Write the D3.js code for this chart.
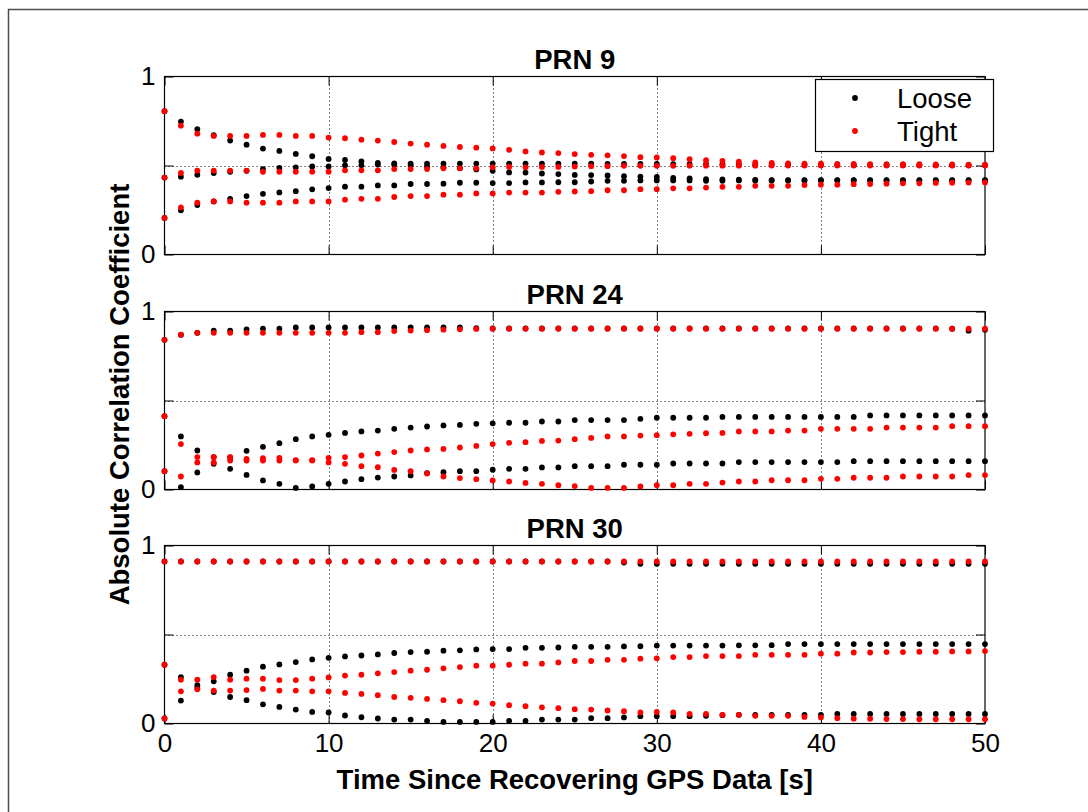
<!DOCTYPE html>
<html><head><meta charset="utf-8">
<script src="https://cdn.jsdelivr.net/npm/d3@7"></script>
<style>
body{margin:0;background:#fff}
svg{display:block}
text{font-family:"Liberation Sans",Arial,Helvetica,sans-serif;fill:#000}
</style>
</head><body>
<svg id="chart" width="1088" height="812"></svg>
<script>
// ---------------- DATA ----------------
const seconds = [0,1,2,3,4,5,6,7,8,9,10,11,12,13,14,15,16,17,18,19,20,21,22,23,24,25,
  26,27,28,29,30,31,32,33,34,35,36,37,38,39,40,41,42,43,44,45,46,47,48,49,50];
const xTicks = [0,10,20,30,40,50];
const yTicks = [0,0.5,1];
const yTickLabels = ["0","","1"];
const panelTitles = ["PRN 9","PRN 24","PRN 30"];
const seriesNames = ["Loose","Tight"];
const seriesColors = ["#000000","#ff0000"];
const xAxisTitle = "Time Since Recovering GPS Data [s]";
const yAxisTitle = "Absolute Correlation Coefficient";

// PRN 9
const loose9a = [0.805,0.747,0.704,0.670,0.640,0.617,0.595,0.582,0.565,0.552,
 0.537,0.531,0.523,0.515,0.512,0.511,0.511,0.511,0.511,0.511,
 0.511,0.511,0.511,0.510,0.510,0.510,0.510,0.509,0.509,0.509,
 0.509,0.508,0.508,0.508,0.507,0.506,0.506,0.505,0.505,0.504,
 0.504,0.504,0.503,0.503,0.503,0.502,0.502,0.502,0.501,0.501,0.501];
const loose9b = [0.432,0.437,0.448,0.458,0.465,0.470,0.480,0.486,0.490,0.495,
 0.495,0.501,0.501,0.505,0.504,0.500,0.495,0.490,0.485,0.478,
 0.470,0.461,0.460,0.455,0.452,0.447,0.446,0.444,0.440,0.438,
 0.436,0.430,0.428,0.424,0.422,0.420,0.419,0.418,0.418,0.418,
 0.418,0.418,0.418,0.417,0.417,0.417,0.417,0.417,0.417,0.417,0.417];
const loose9c = [0.205,0.248,0.278,0.298,0.313,0.328,0.341,0.349,0.356,0.366,
 0.373,0.381,0.381,0.388,0.388,0.396,0.396,0.398,0.403,0.403,
 0.401,0.401,0.405,0.405,0.406,0.406,0.410,0.414,0.414,0.416,
 0.416,0.416,0.416,0.414,0.414,0.416,0.416,0.416,0.416,0.416,
 0.416,0.416,0.416,0.416,0.416,0.416,0.416,0.416,0.416,0.416,0.416];
const tight9a = [0.805,0.724,0.679,0.666,0.666,0.666,0.672,0.672,0.666,0.666,
 0.657,0.653,0.645,0.640,0.632,0.623,0.617,0.610,0.604,0.600,
 0.596,0.588,0.579,0.573,0.570,0.564,0.560,0.557,0.553,0.547,
 0.545,0.541,0.535,0.530,0.526,0.522,0.517,0.514,0.512,0.511,
 0.510,0.509,0.509,0.508,0.508,0.507,0.507,0.506,0.506,0.505,0.505];
const tight9b = [0.432,0.458,0.471,0.471,0.471,0.471,0.465,0.465,0.465,0.465,
 0.465,0.473,0.473,0.473,0.480,0.480,0.480,0.484,0.484,0.484,
 0.490,0.492,0.490,0.492,0.492,0.494,0.496,0.496,0.498,0.498,
 0.498,0.498,0.499,0.499,0.499,0.499,0.499,0.500,0.500,0.500,
 0.500,0.500,0.500,0.500,0.500,0.500,0.500,0.500,0.500,0.500,0.500];
const tight9c = [0.205,0.265,0.291,0.298,0.298,0.291,0.291,0.291,0.298,0.298,
 0.298,0.308,0.313,0.313,0.323,0.328,0.328,0.336,0.336,0.343,
 0.343,0.348,0.348,0.348,0.352,0.354,0.356,0.361,0.361,0.367,
 0.367,0.372,0.372,0.376,0.380,0.380,0.386,0.386,0.386,0.390,
 0.392,0.392,0.395,0.396,0.398,0.400,0.400,0.402,0.403,0.404,0.405];

// PRN 24
const loose24a = [0.841,0.869,0.880,0.893,0.893,0.899,0.903,0.903,0.910,0.910,
 0.910,0.910,0.910,0.910,0.910,0.910,0.910,0.910,0.910,0.907,
 0.905,0.905,0.905,0.905,0.905,0.905,0.905,0.905,0.905,0.905,
 0.905,0.905,0.905,0.905,0.905,0.905,0.905,0.905,0.905,0.905,
 0.905,0.905,0.905,0.905,0.905,0.905,0.905,0.905,0.903,0.892,0.897];
const loose24b = [0.412,0.298,0.219,0.182,0.180,0.217,0.240,0.260,0.283,0.298,
 0.307,0.318,0.326,0.331,0.341,0.348,0.354,0.360,0.363,0.369,
 0.372,0.375,0.375,0.382,0.382,0.390,0.390,0.390,0.390,0.397,
 0.403,0.403,0.403,0.403,0.408,0.408,0.408,0.408,0.408,0.408,
 0.408,0.408,0.408,0.416,0.416,0.416,0.416,0.416,0.416,0.416,0.416];
const loose24c = [0.103,0.013,0.096,0.144,0.116,0.082,0.051,0.032,0.009,0.017,
 0.032,0.045,0.058,0.067,0.073,0.079,0.092,0.097,0.103,0.103,
 0.111,0.116,0.116,0.124,0.124,0.131,0.131,0.131,0.139,0.139,
 0.139,0.146,0.146,0.146,0.146,0.154,0.154,0.154,0.154,0.154,
 0.154,0.154,0.159,0.159,0.159,0.159,0.159,0.159,0.159,0.159,0.159];
const tight24a = [0.841,0.870,0.880,0.880,0.880,0.880,0.880,0.880,0.880,0.880,
 0.880,0.880,0.884,0.884,0.890,0.893,0.895,0.898,0.900,0.902,
 0.903,0.903,0.903,0.903,0.903,0.903,0.903,0.903,0.903,0.903,
 0.903,0.903,0.903,0.903,0.903,0.903,0.903,0.903,0.903,0.903,
 0.903,0.903,0.903,0.903,0.903,0.903,0.903,0.903,0.903,0.903,0.903];
const tight24b = [0.412,0.255,0.182,0.182,0.182,0.172,0.176,0.178,0.165,0.165,
 0.178,0.182,0.191,0.202,0.210,0.219,0.225,0.228,0.236,0.245,
 0.255,0.262,0.266,0.273,0.275,0.283,0.290,0.298,0.298,0.303,
 0.305,0.310,0.313,0.316,0.318,0.326,0.326,0.326,0.331,0.331,
 0.341,0.341,0.341,0.341,0.348,0.348,0.348,0.348,0.356,0.356,0.356];
const tight24c = [0.103,0.073,0.152,0.152,0.163,0.163,0.163,0.163,0.163,0.163,
 0.152,0.144,0.131,0.125,0.110,0.103,0.090,0.073,0.064,0.058,
 0.051,0.045,0.037,0.032,0.024,0.019,0.009,0.009,0.009,0.017,
 0.024,0.024,0.032,0.032,0.039,0.045,0.045,0.052,0.052,0.052,
 0.060,0.060,0.066,0.066,0.066,0.073,0.073,0.073,0.073,0.081,0.081];

// PRN 30
const loose30a = [0.910,0.910,0.910,0.910,0.910,0.910,0.910,0.910,0.910,0.910,
 0.910,0.910,0.910,0.910,0.910,0.910,0.910,0.910,0.910,0.910,
 0.910,0.910,0.910,0.910,0.910,0.910,0.910,0.910,0.904,0.897,
 0.897,0.897,0.897,0.897,0.897,0.897,0.897,0.897,0.897,0.897,
 0.897,0.897,0.897,0.897,0.897,0.897,0.897,0.897,0.897,0.897,0.897];
const loose30b = [0.330,0.261,0.215,0.237,0.274,0.297,0.319,0.332,0.345,0.360,
 0.369,0.377,0.382,0.388,0.396,0.401,0.403,0.409,0.411,0.416,
 0.418,0.418,0.425,0.425,0.427,0.431,0.431,0.431,0.433,0.434,
 0.438,0.438,0.438,0.438,0.438,0.439,0.439,0.440,0.446,0.446,
 0.446,0.446,0.446,0.446,0.446,0.446,0.446,0.446,0.446,0.446,0.446];
const loose30c = [0.028,0.129,0.200,0.177,0.149,0.131,0.108,0.093,0.078,0.065,
 0.062,0.045,0.035,0.028,0.022,0.022,0.015,0.009,0.009,0.009,
 0.009,0.015,0.015,0.022,0.022,0.022,0.030,0.030,0.034,0.041,
 0.041,0.041,0.041,0.043,0.047,0.049,0.049,0.049,0.049,0.049,
 0.049,0.054,0.054,0.054,0.054,0.054,0.054,0.054,0.054,0.054,0.054];
const tight30a = [0.910,0.910,0.910,0.910,0.910,0.910,0.910,0.910,0.910,0.910,
 0.910,0.910,0.910,0.910,0.910,0.910,0.910,0.910,0.910,0.910,
 0.910,0.910,0.910,0.910,0.910,0.910,0.910,0.910,0.910,0.910,
 0.910,0.910,0.910,0.910,0.910,0.910,0.910,0.910,0.910,0.910,
 0.910,0.910,0.910,0.910,0.910,0.910,0.910,0.910,0.910,0.910,0.910];
const tight30b = [0.330,0.246,0.246,0.261,0.246,0.252,0.252,0.244,0.244,0.252,
 0.259,0.269,0.274,0.282,0.289,0.297,0.302,0.310,0.317,0.325,
 0.325,0.330,0.336,0.336,0.343,0.351,0.351,0.358,0.358,0.364,
 0.366,0.373,0.373,0.379,0.379,0.379,0.386,0.386,0.386,0.386,
 0.392,0.392,0.399,0.399,0.401,0.401,0.403,0.403,0.405,0.405,0.407];
const tight30c = [0.028,0.181,0.192,0.185,0.185,0.188,0.194,0.185,0.185,0.181,
 0.181,0.172,0.166,0.159,0.149,0.144,0.138,0.131,0.125,0.116,
 0.112,0.103,0.097,0.091,0.086,0.080,0.078,0.073,0.069,0.062,
 0.065,0.062,0.054,0.054,0.049,0.049,0.043,0.043,0.043,0.037,
 0.034,0.030,0.027,0.027,0.025,0.025,0.024,0.024,0.024,0.024,0.024];

const panels = [
  {title: panelTitles[0], loose: [loose9a, loose9b, loose9c],   tight: [tight9a, tight9b, tight9c]},
  {title: panelTitles[1], loose: [loose24a, loose24b, loose24c], tight: [tight24a, tight24b, tight24c]},
  {title: panelTitles[2], loose: [loose30a, loose30b, loose30c], tight: [tight30a, tight30b, tight30c]}
];

// ---------------- LAYOUT ----------------
const svg = d3.select("#chart");
const FONT = 27.5;
const plotLeft = 164.5, plotRight = 985;
const panelTops = [76.5, 311.5, 545.5];
const panelH = 178;
const tickLen = 9;
const markerR = 2.9;

// figure frame (top/left edges)
svg.append("path")
  .attr("d", "M8.5,812 V9.5 H1088")
  .attr("fill", "none").attr("stroke", "#4d4d4d").attr("stroke-width", 1.5);

const x = d3.scaleLinear().domain([0, 50]).range([plotLeft, plotRight]);

panels.forEach((p, pi) => {
  const top = panelTops[pi];
  const y = d3.scaleLinear().domain([0, 1]).range([top + panelH, top]);
  const g = svg.append("g");

  // dotted grid
  const grid = g.append("g").attr("stroke", "#000").attr("stroke-width", 1)
    .attr("stroke-dasharray", "1,3").attr("fill", "none");
  grid.selectAll("line.gx").data(xTicks.filter(t => t > 0 && t < 50)).join("line")
    .attr("x1", d => Math.round(x(d)) + 0.5).attr("x2", d => Math.round(x(d)) + 0.5)
    .attr("y1", y(1)).attr("y2", y(0));
  grid.selectAll("line.gy").data(yTicks.filter(t => t > 0 && t < 1)).join("line")
    .attr("x1", x(0)).attr("x2", x(50))
    .attr("y1", d => Math.round(y(d)) + 0.5).attr("y2", d => Math.round(y(d)) + 0.5);

  // axes (inward ticks on all four sides)
  const axB = d3.axisBottom(x).tickValues(xTicks).tickSizeInner(-tickLen).tickSizeOuter(0).tickPadding(10)
    .tickFormat(pi === 2 ? d3.format("d") : () => "");
  const axT = d3.axisTop(x).tickValues(xTicks).tickSizeInner(-tickLen).tickSizeOuter(0).tickFormat(() => "");
  const axL = d3.axisLeft(y).tickValues(yTicks).tickSizeInner(-tickLen).tickSizeOuter(0).tickPadding(9)
    .tickFormat((d, i) => yTickLabels[i]);
  const axR = d3.axisRight(y).tickValues(yTicks).tickSizeInner(-tickLen).tickSizeOuter(0).tickFormat(() => "");

  const gB = g.append("g").attr("transform", `translate(0,${y(0)})`).call(axB);
  const gT = g.append("g").attr("transform", `translate(0,${y(1)})`).call(axT);
  const gL = g.append("g").attr("transform", `translate(${x(0)},0)`).call(axL);
  const gR = g.append("g").attr("transform", `translate(${x(50)},0)`).call(axR);
  [gB, gT, gL, gR].forEach(a => {
    a.select(".domain").remove();
    a.selectAll(".tick line").attr("stroke", "#000").attr("stroke-width", 1);
    a.selectAll(".tick text").attr("font-size", 26).attr("fill", "#000")
      .style("font-family", '"Liberation Sans",Arial,sans-serif');
  });
  gB.selectAll(".tick text").attr("dy", "0.71em");

  // plot box
  g.append("rect").attr("x", x(0)).attr("y", y(1))
    .attr("width", x(50) - x(0)).attr("height", y(0) - y(1))
    .attr("fill", "none").attr("stroke", "#000").attr("stroke-width", 1.2);

  // title
  g.append("text").attr("x", (x(0) + x(50)) / 2).attr("y", y(1) - 7.5)
    .attr("text-anchor", "middle").attr("font-weight", "bold").attr("font-size", FONT)
    .text(p.title);

  // markers: loose (black) first, tight (red) on top
  [p.loose, p.tight].forEach((group, si) => {
    group.forEach(vals => {
      g.append("g").attr("fill", seriesColors[si])
        .selectAll("circle").data(vals).join("circle")
        .attr("cx", (d, i) => x(seconds[i])).attr("cy", d => y(d)).attr("r", markerR);
    });
  });

  // legend in first panel
  if (pi === 0) {
    const lg = svg.append("g");
    lg.append("rect").attr("x", 815.5).attr("y", 79.5).attr("width", 178).attr("height", 72)
      .attr("fill", "#fff").attr("stroke", "#000").attr("stroke-width", 1.2);
    seriesNames.forEach((name, i) => {
      const cy = 98 + i * 33;
      lg.append("circle").attr("cx", 855).attr("cy", cy).attr("r", markerR).attr("fill", seriesColors[i]);
      lg.append("text").attr("x", 897).attr("y", cy + 10).attr("font-size", FONT).text(name);
    });
  }
});

// axis titles
svg.append("text").attr("x", (plotLeft + plotRight) / 2).attr("y", 789)
  .attr("text-anchor", "middle").attr("font-weight", "bold").attr("font-size", FONT)
  .text(xAxisTitle);
svg.append("text").attr("transform", "translate(129,394.5) rotate(-90)")
  .attr("text-anchor", "middle").attr("font-weight", "bold").attr("font-size", FONT)
  .text(yAxisTitle);
</script>
</body></html>
